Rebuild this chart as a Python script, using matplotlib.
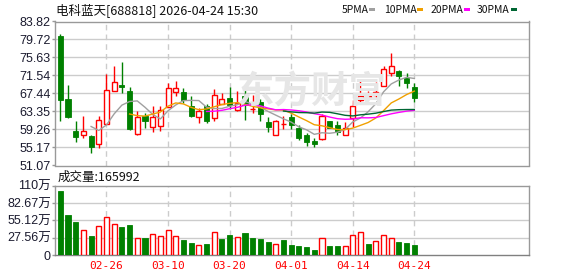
import numpy as np
import pandas as pd
import matplotlib
matplotlib.use('Agg')
import matplotlib.pyplot as plt
from matplotlib.patches import Rectangle

plt.rcParams['font.family'] = ['Liberation Sans', 'Noto Sans CJK SC']

# daily K-line data for 688818
dates = ['02-10', '02-11', '02-12', '02-13', '02-24', '02-25', '02-26', '02-27', '03-02', '03-03',
         '03-04', '03-05', '03-06', '03-09', '03-10', '03-11', '03-12', '03-13', '03-16', '03-17',
         '03-18', '03-19', '03-20', '03-23', '03-24', '03-25', '03-26', '03-27', '03-30', '03-31',
         '04-01', '04-02', '04-03', '04-07', '04-08', '04-09', '04-10', '04-13', '04-14', '04-15',
         '04-16', '04-17', '04-20', '04-21', '04-22', '04-23', '04-24']
opens = [80.6, 66.3, 59.0, 58.0, 57.8, 56.0, 60.6, 68.1, 69.3, 68.1,
         58.2, 62.3, 59.8, 60.1, 64.4, 67.7, 67.7, 64.7, 62.0, 64.5,
         61.8, 65.0, 66.5, 63.6, 66.9, 63.9, 65.6, 60.9, 58.0, 60.5,
         62.1, 59.6, 58.0, 56.7, 57.1, 61.1, 60.3, 58.0, 61.9, 66.0,
         66.6, 67.2, 69.2, 72.2, 72.5, 70.9, 69.0]
closes = [66.0, 62.0, 57.5, 59.0, 55.2, 61.5, 68.3, 70.1, 68.9, 59.3,
          62.2, 61.1, 62.0, 63.7, 68.6, 68.8, 66.0, 62.3, 63.5, 61.1,
          67.2, 66.1, 64.8, 65.3, 64.8, 64.0, 62.8, 59.9, 61.1, 60.6,
          60.3, 57.4, 56.5, 56.0, 62.4, 59.7, 58.6, 59.6, 64.6, 66.9,
          66.8, 67.7, 73.1, 73.6, 71.4, 69.8, 66.4]
highs = [81.0, 69.3, 61.1, 62.4, 57.9, 62.3, 71.9, 73.6, 74.7, 68.9,
         63.4, 63.0, 64.7, 64.7, 69.9, 70.2, 68.8, 66.8, 64.1, 65.1,
         68.4, 67.5, 69.0, 68.1, 68.6, 67.0, 66.1, 62.2, 61.5, 62.3,
         62.7, 60.3, 58.5, 57.4, 62.8, 61.2, 61.1, 61.0, 65.9, 70.4,
         67.9, 70.0, 73.7, 76.6, 72.8, 72.0, 69.9]
lows = [61.1, 61.9, 56.4, 57.3, 53.9, 55.0, 60.4, 68.0, 67.5, 59.1,
        58.0, 59.6, 58.6, 58.9, 64.3, 66.9, 65.2, 62.0, 60.7, 60.8,
        61.1, 65.0, 64.0, 63.4, 61.5, 63.0, 61.2, 58.6, 57.9, 59.3,
        59.3, 56.9, 55.6, 55.2, 56.9, 59.6, 57.9, 58.0, 59.8, 65.1,
        65.9, 66.2, 69.1, 71.5, 69.2, 68.7, 65.5]
# volume in 万
volumes = [102.0, 63.8, 52.6, 39.3, 30.3, 45.7, 60.1, 48.9, 44.6, 47.3,
           26.6, 27.1, 33.0, 29.8, 39.3, 29.8, 23.9, 19.1, 15.4, 17.5,
           36.1, 25.5, 31.9, 28.2, 35.1, 27.1, 25.5, 20.7, 17.5, 23.9,
           15.9, 14.3, 12.8, 8.0, 26.6, 14.3, 14.3, 13.8, 31.4, 36.1,
           17.5, 22.3, 31.4, 26.6, 20.7, 19.1, 16.5992]

price_labels = ['51.07', '55.17', '59.26', '63.35', '67.44', '71.54', '75.63', '79.72', '83.82']
vol_labels = ['0', '27.56万', '55.12万', '82.67万', '110万']
vol_ticks = [0, 27.56, 55.12, 82.67, 110.24]

ma_periods = [5, 10, 20, 30]
ma_colors = ['#a0a0a0', '#f0a000', '#ff00ff', '#006633']

RED = '#ff0000'
GREEN = '#008000'
GRID = '#cccccc'
FRAME = '#999999'

df = pd.DataFrame({'open': opens, 'close': closes, 'high': highs, 'low': lows, 'vol': volumes})
x = np.arange(len(df))
up = df['close'] >= df['open']
vol_up = df['close'] > df['close'].shift(1).fillna(df['open'])

W, H = 578, 276
fig = plt.figure(figsize=(W / 100, H / 100), dpi=100)


def box(l, t, r, b):
    return [l / W, 1 - b / H, (r - l) / W, (b - t) / H]


ax = fig.add_axes(box(55, 21.5, 529, 165.5))
axv = fig.add_axes(box(55, 185.7, 529, 255))

xlim = (-0.69, 60.9)
tick_idx = list(range(6, len(dates), 8))

# ---- price panel ----
pmin, pmax = float(price_labels[0]), float(price_labels[-1])
pticks = np.linspace(pmin, pmax, len(price_labels))
for yv in pticks[1:-1]:
    ax.axhline(yv, color=GRID, lw=1, zorder=0)
for i in tick_idx:
    ax.axvline(i, color=GRID, lw=1, ls=(0, (4, 3)), zorder=0)

# watermark
fig.text(312 / W, 1 - 92 / H, '东方财富', fontsize=27, color='#e6e6e6',
         family=['Noto Sans CJK SC'], weight='bold', ha='center', va='center', zorder=0)

w = 0.66
for i in x:
    o, c, h, l = df.loc[i, ['open', 'close', 'high', 'low']]
    col = RED if up[i] else GREEN
    ax.vlines(i, l, h, color=col, lw=1, zorder=2)
    bottom = min(o, c)
    height = max(abs(c - o), 0.08)
    if up[i]:
        ax.bar(i, height, bottom=bottom, width=w, facecolor='white', edgecolor=col, lw=1, zorder=3)
    else:
        ax.bar(i, height, bottom=bottom, width=w, facecolor=col, edgecolor=col, lw=0.6, zorder=3)

for p, col in zip(ma_periods, ma_colors):
    ma = df['close'].rolling(p).mean()
    ax.plot(x, ma, color=col, lw=1, zorder=4)

ax.set_xlim(*xlim)
ax.set_ylim(pmin, pmax)
ax.set_yticks(pticks)
ax.set_yticklabels(price_labels)
ax.set_xticks([])
ax.tick_params(axis='y', length=2, width=1, color=FRAME, labelsize=9, pad=1, labelcolor='#1a1a2e')
for s in ax.spines.values():
    s.set_color(FRAME)
    s.set_linewidth(1)

# ---- volume panel ----
for yv in vol_ticks[1:-1]:
    axv.axhline(yv, color=GRID, lw=1, zorder=0)
for i in tick_idx:
    axv.axvline(i, color=GRID, lw=1, ls=(0, (4, 3)), zorder=0)
for i in x:
    if vol_up[i]:
        axv.bar(i, df.loc[i, 'vol'], width=w, facecolor='white', edgecolor=RED, lw=1, zorder=3)
    else:
        axv.bar(i, df.loc[i, 'vol'], width=w, facecolor=GREEN, edgecolor=GREEN, lw=0.6, zorder=3)

axv.set_xlim(*xlim)
axv.set_ylim(0, vol_ticks[-1])
axv.set_yticks(vol_ticks)
axv.set_yticklabels(vol_labels)
axv.set_xticks(tick_idx)
axv.set_xticklabels([dates[i] for i in tick_idx], family=['DejaVu Sans Mono'], fontsize=8)
axv.tick_params(axis='x', length=0, pad=4, labelcolor=RED)
axv.tick_params(axis='y', length=2, width=1, color=FRAME, labelsize=9, pad=1, labelcolor='#1a1a2e')
for s in axv.spines.values():
    s.set_color(FRAME)
    s.set_linewidth(1)
axv.spines['bottom'].set_color('#808080')

# ---- header texts ----
fig.text(56 / W, 1 - 10 / H, '电科蓝天[688818] 2026-04-24 15:30', fontsize=9,
         family=['Noto Sans CJK SC'], va='center', ha='left', color='#111111')
fig.text(58 / W, 1 - 177 / H, '成交量:' + str(int(round(volumes[-1] * 10000))), fontsize=9,
         family=['Noto Sans CJK SC'], va='center', ha='left', color='#111111')

# MA legend
leg_x = [342, 384, 431, 477]
sq_x = [369, 417, 464, 511]
for lx, sx, p, col in zip(leg_x, sq_x, ma_periods, ma_colors):
    fig.text(lx / W, 1 - 10 / H, f'{p}PMA', fontsize=7.5, family=['Noto Sans CJK SC'],
             va='center', ha='left', color='#111111')
    fig.add_artist(Rectangle((sx / W, 1 - 11.2 / H), 6 / W, 3 / H,
                             transform=fig.transFigure, facecolor=col, edgecolor='none'))

fig.savefig('out.png', dpi=100)
